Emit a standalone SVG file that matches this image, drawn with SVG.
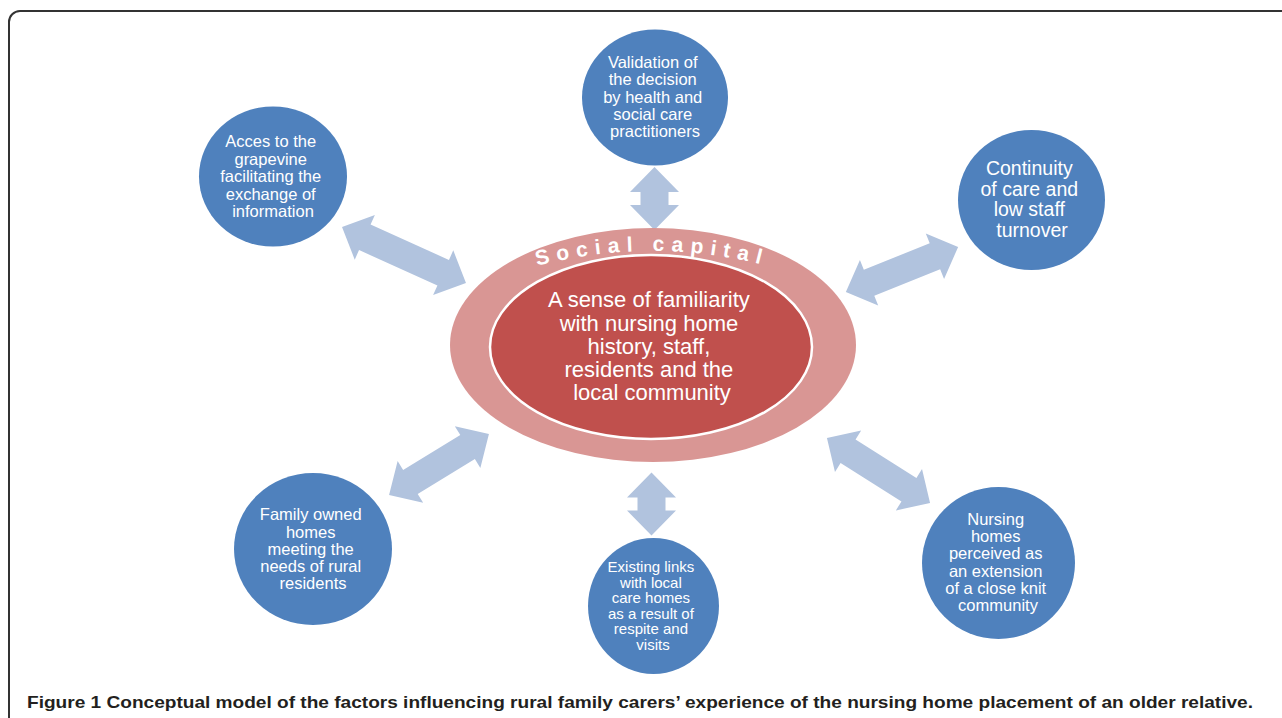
<svg xmlns="http://www.w3.org/2000/svg" width="1282" height="718" viewBox="0 0 1282 718">
  <style>
    .node { fill: #4F81BD; }
    .ntext { font-family: "Liberation Sans", Arial, sans-serif; font-size: 16.5px; fill: #FFFFFF; text-anchor: middle; }
    .arrow { fill: #B1C3DE; }
    .ctext { font-family: "Liberation Sans", Arial, sans-serif; font-size: 22px; fill: #FFFFFF; text-anchor: middle; }
    .arc { font-family: "Liberation Sans", Arial, sans-serif; font-size: 21px; font-weight: bold; fill: #FFFFFF; letter-spacing: 7px; }
    .caption { font-family: "Liberation Sans", Arial, sans-serif; font-size: 17px; font-weight: bold; fill: #231F20; }
  </style>
  <defs>
    <path id="arcPath" d="M 452,298.1 A 448 448 0 0 1 852,298.1"/>
  </defs>

  <rect width="1282" height="718" fill="#FFFFFF"/>
  <!-- figure frame -->
  <rect x="9" y="11" width="1320" height="760" rx="11" ry="11" fill="none" stroke="#333333" stroke-width="2"/>

  <!-- double-headed connectors -->
  <g id="connectors">
    <polygon class="arrow" transform="translate(654.5,198.5) rotate(90)" points="-31.5,0 -6.5,-24.5 -6.5,-14 6.5,-14 6.5,-24.5 31.5,0 6.5,24.5 6.5,14 -6.5,14 -6.5,24.5"/>
    <polygon class="arrow" transform="translate(651.5,504) rotate(90)" points="-31.5,0 -6.5,-24.5 -6.5,-14 6.5,-14 6.5,-24.5 31.5,0 6.5,24.5 6.5,14 -6.5,14 -6.5,24.5"/>
    <polygon class="arrow" transform="translate(404,255) rotate(24.3)" points="-68,0 -43,-24.5 -43,-14 43,-14 43,-24.5 68,0 43,24.5 43,14 -43,14 -43,24.5"/>
    <polygon class="arrow" transform="translate(902,269.5) rotate(-21.9)" points="-60.5,0 -35.5,-24.5 -35.5,-14 35.5,-14 35.5,-24.5 60.5,0 35.5,24.5 35.5,14 -35.5,14 -35.5,24.5"/>
    <polygon class="arrow" transform="translate(878.5,470.5) rotate(32.3)" points="-61,0 -36,-24.5 -36,-14 36,-14 36,-24.5 61,0 36,24.5 36,14 -36,14 -36,24.5"/>
    <polygon class="arrow" transform="translate(439,464.5) rotate(-31.4)" points="-58.5,0 -33.5,-24.5 -33.5,-14 33.5,-14 33.5,-24.5 58.5,0 33.5,24.5 33.5,14 -33.5,14 -33.5,24.5"/>
  </g>

  <!-- central social capital ring -->
  <g id="social-capital">
    <ellipse cx="653" cy="345" rx="203" ry="117" fill="#D99694"/>
    <text class="arc"><textPath href="#arcPath" startOffset="50%" text-anchor="middle">Social capital</textPath></text>
  </g>
  <g id="familiarity">
    <ellipse cx="651" cy="347" rx="161" ry="92" fill="#C0504D" stroke="#FFFFFF" stroke-width="2.5"/>
    <text class="ctext">
      <tspan x="652" y="307">A sense of familiarity</tspan>
      <tspan x="652" y="330.5">with nursing home</tspan>
      <tspan x="652" y="353.5">history, staff,</tspan>
      <tspan x="652" y="377">residents and the</tspan>
      <tspan x="652" y="400">local community</tspan>
    </text>
  </g>

  <g id="validation">
    <ellipse class="node" cx="655" cy="97.5" rx="73" ry="68"/>
    <text class="ntext">
      <tspan x="655" y="68">Validation of</tspan>
      <tspan x="655" y="85.3">the decision</tspan>
      <tspan x="655" y="102.6">by health and</tspan>
      <tspan x="655" y="120">social care</tspan>
      <tspan x="655" y="137.3">practitioners</tspan>
    </text>
  </g>

  <g id="grapevine">
    <ellipse class="node" cx="273" cy="176.5" rx="74" ry="70"/>
    <text class="ntext">
      <tspan x="273" y="147">Acces to the</tspan>
      <tspan x="273" y="164.5">grapevine</tspan>
      <tspan x="273" y="182">facilitating the</tspan>
      <tspan x="273" y="199.5">exchange of</tspan>
      <tspan x="273" y="217">information</tspan>
    </text>
  </g>

  <g id="continuity">
    <ellipse class="node" cx="1031.5" cy="200" rx="73.5" ry="70"/>
    <text class="ntext" style="font-size:19.5px">
      <tspan x="1032" y="175">Continuity</tspan>
      <tspan x="1032" y="195.5">of care and</tspan>
      <tspan x="1032" y="216">low staff</tspan>
      <tspan x="1032" y="236.5">turnover</tspan>
    </text>
  </g>

  <g id="extension">
    <ellipse class="node" cx="998.5" cy="563" rx="76.5" ry="76"/>
    <text class="ntext">
      <tspan x="998" y="525">Nursing</tspan>
      <tspan x="998" y="542">homes</tspan>
      <tspan x="998" y="559.3">perceived as</tspan>
      <tspan x="998" y="576.7">an extension</tspan>
      <tspan x="998" y="594">of a close knit</tspan>
      <tspan x="998" y="611">community</tspan>
    </text>
  </g>

  <g id="family-owned">
    <ellipse class="node" cx="313" cy="549" rx="79" ry="76"/>
    <text class="ntext">
      <tspan x="313" y="520">Family owned</tspan>
      <tspan x="313" y="537.5">homes</tspan>
      <tspan x="313" y="554.5">meeting the</tspan>
      <tspan x="313" y="572">needs of rural</tspan>
      <tspan x="313" y="589">residents</tspan>
    </text>
  </g>

  <g id="existing-links">
    <ellipse class="node" cx="653.5" cy="606" rx="65.5" ry="68"/>
    <text class="ntext" style="font-size:15px">
      <tspan x="653" y="572">Existing links</tspan>
      <tspan x="653" y="587.5">with local</tspan>
      <tspan x="653" y="603">care homes</tspan>
      <tspan x="653" y="618.6">as a result of</tspan>
      <tspan x="653" y="634">respite and</tspan>
      <tspan x="653" y="650">visits</tspan>
    </text>
  </g>

  <text class="caption" x="27" y="708" textLength="1226" lengthAdjust="spacingAndGlyphs">Figure 1 Conceptual model of the factors influencing rural family carers’ experience of the nursing home placement of an older relative.</text>
</svg>
